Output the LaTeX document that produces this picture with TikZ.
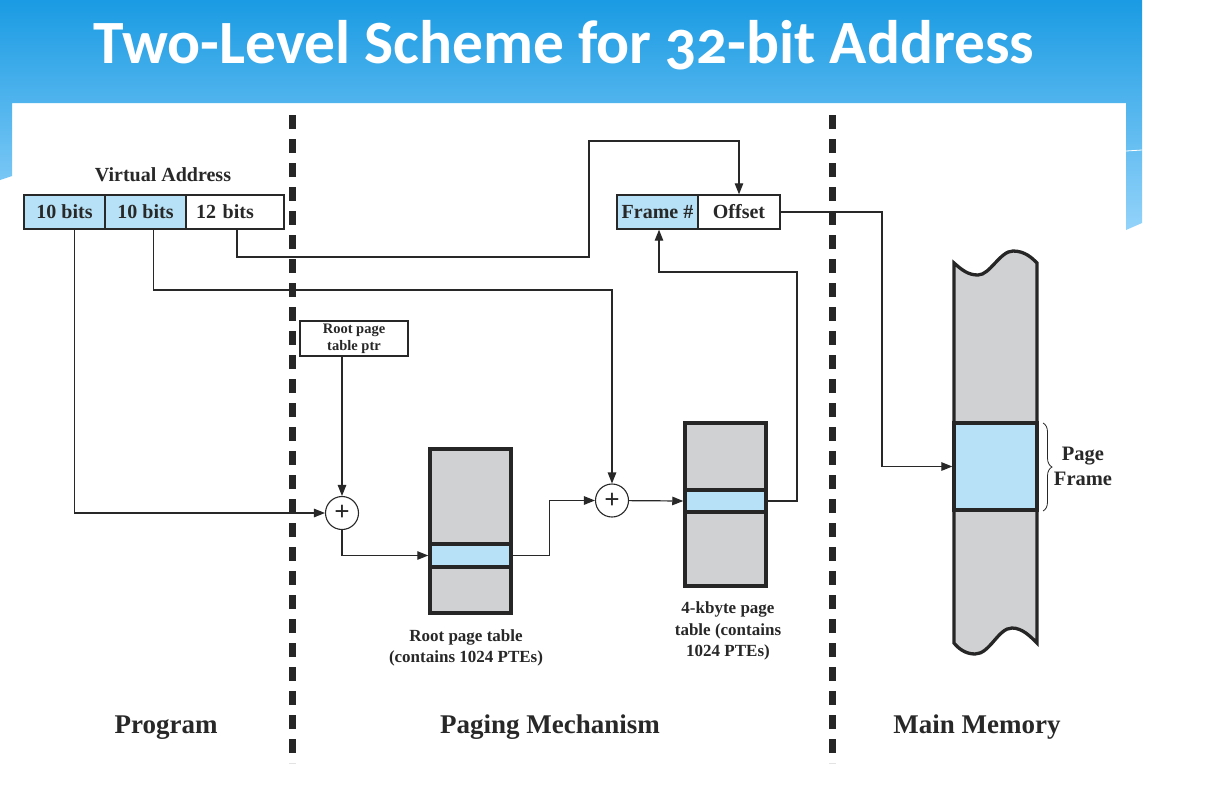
\documentclass[tikz,border=0pt]{standalone}
\usepackage{fontspec}
\setmainfont{Liberation Serif}
\newfontfamily\titlefont[Numbers=OldStyle]{Carlito}
\usepackage{tikz}
\usetikzlibrary{arrows.meta}
\usetikzlibrary{decorations.pathreplacing}
\definecolor{headTop}{RGB}{26,155,227}
\definecolor{headBottom}{RGB}{147,211,250}
\definecolor{entryColor}{RGB}{182,225,247}
\definecolor{tableColor}{RGB}{208,209,211}
\definecolor{lineColor}{RGB}{40,40,40}

\begin{document}
\begin{tikzpicture}[x=1pt,y=-1pt]

            \tikzstyle{field} = [draw=lineColor, line width=1.4pt, minimum height=34pt, inner sep=0pt, text=lineColor, font=\fontsize{20}{24}\selectfont\bfseries];
            \tikzstyle{blueField} = [field, fill=entryColor];
            \tikzstyle{tableBox} = [draw=black!85, line width=3.5pt, fill=tableColor, minimum width=81pt, inner sep=0pt];
            \tikzstyle{entryBox} = [draw=black!85, line width=3.5pt, fill=entryColor, minimum width=81pt, inner sep=0pt];
            \tikzstyle{adder} = [draw=lineColor, line width=1.1pt, circle, fill=white, minimum size=33pt, inner sep=0pt, text=lineColor, font=\fontsize{27}{27}\selectfont\bfseries];
            \tikzstyle{link} = [draw=lineColor, line width=1.2pt];
            \tikzstyle{arrowLink} = [link, -{Triangle[length=11pt,width=8.5pt]}];
            \tikzstyle{divider} = [line width=7pt, black!85, dash pattern=on 13.5pt off 10.5pt];
            \tikzstyle{caption} = [inner sep=0pt, align=center, text=lineColor, font=\fontsize{17}{21.5}\selectfont\bfseries];
            \tikzstyle{region} = [anchor=base, text=lineColor, font=\fontsize{27}{30}\selectfont\bfseries];

            % slide background
            \fill[white] (0,0) rectangle (1226,807);
            \shade[top color=headTop, bottom color=headBottom] (0,0) -- (1142,0) -- (1142,223) -- (1126,230) -- (1126,103) -- (12,103) -- (12,176) -- (0,180) -- cycle;
            \draw[white, line width=0.8pt] (1126,151) -- (1142,150);
            \node[anchor=base, text=white, font=\titlefont\bfseries\fontsize{61.5}{62}\selectfont] (title) at (564,63) {Two-Level Scheme for 32-bit Address};

            % virtual address
            \node[anchor=base, text=lineColor, font=\fontsize{20}{24}\selectfont\bfseries] (vaLabel) at (163,181) {Virtual Address};
            \node[blueField, minimum width=81pt] (va1) at (64.5,212) {10 bits};
            \node[blueField, minimum width=81pt] (va2) at (145.5,212) {10 bits};
            \node[field, minimum width=98pt, text width=78pt, inner xsep=10pt, align=left] (va3) at (235,212) {12 bits};

            % physical address
            \node[blueField, minimum width=81pt] (fr) at (657.5,212) {Frame \#};
            \node[field, minimum width=82pt] (off) at (739,212) {Offset};

            \node[field, minimum width=108pt, minimum height=35pt, line width=1.2pt, align=center, font=\fontsize{14.5}{17}\selectfont\bfseries] (ptr) at (354,338.5) {Root page\\table ptr};

            \node[adder] (addA) at (342,513) {+};
            \node[adder] (addB) at (612,500.5) {+};

            % page tables
            \node[tableBox, minimum height=164pt] (root) at (470.5,531) {};
            \node[entryBox, minimum height=23pt] (rootPte) at (470.5,555.5) {};
            \node[tableBox, minimum height=163pt] (leaf) at (725.5,504.5) {};
            \node[entryBox, minimum height=22pt] (leafPte) at (725.5,501) {};
            \node[caption] (rootLabel) at (466,648) {Root page table\\(contains 1024 PTEs)};
            \node[caption] (leafLabel) at (728,631) {4-kbyte page\\table (contains\\1024 PTEs)};

            % main memory
            \filldraw[fill=tableColor, draw=black!85, line width=3.3pt] (954,263) .. controls (962,270) and (968,275) .. (978,275) .. controls (990,275) and (1000,251) .. (1013,251) .. controls (1025,251) and (1032,258) .. (1037,263) -- (1037,643) .. controls (1030,636) and (1022,628) .. (1012,628) .. controls (998,628) and (990,654) .. (975,654) .. controls (965,654) and (958,648) .. (954,643) -- cycle;
            \node[entryBox, minimum width=83pt, minimum height=87pt, line width=3.3pt] (frame) at (995.5,466.5) {};
            \draw[decorate, decoration={brace, amplitude=9pt}, lineColor, line width=0.8pt] (1043,423) -- (1043,511);
            \node[caption, font=\fontsize{20.5}{25}\selectfont\bfseries] (pfLabel) at (1083,466) {Page\\Frame};

            % connectors
            \coordinate (bendA) at (612,290);
            \coordinate (bendB) at (589,257);
            \coordinate (bendC) at (589,141);
            \coordinate (bendD) at (797,272);
            \coordinate (bendE) at (882,212);

            \draw[arrowLink] ([xshift=10pt]va1.south) |- (addA);
            \draw[arrowLink] ([xshift=8pt]va2.south) |- (bendA) -- (addB);
            \draw[arrowLink] ([xshift=2pt]va3.south) |- (bendB) -- (bendC) -| (off.north);
            \draw[arrowLink] (ptr.south -| addA) -- (addA);
            \draw[arrowLink] (addA) |- (rootPte.west);
            \draw[arrowLink] (rootPte.east) -- ++(37,0) |- (addB);
            \draw[arrowLink] (addB) -- (leafPte.west);
            \draw[arrowLink] (leafPte.east) -| (bendD) -| ([xshift=1.5pt]fr.south);
            \draw[arrowLink] (off.east) -- (bendE) |- (frame.west);

            % dividers
            \draw[divider] (292,115) -- (292,763);
            \draw[divider] (832,115) -- (832,763);

            \node[region] (prog) at (166,733) {Program};
            \node[region] (paging) at (550,733) {Paging Mechanism};
            \node[region] (memory) at (977,733) {Main Memory};
          \end{tikzpicture}
\end{document}
